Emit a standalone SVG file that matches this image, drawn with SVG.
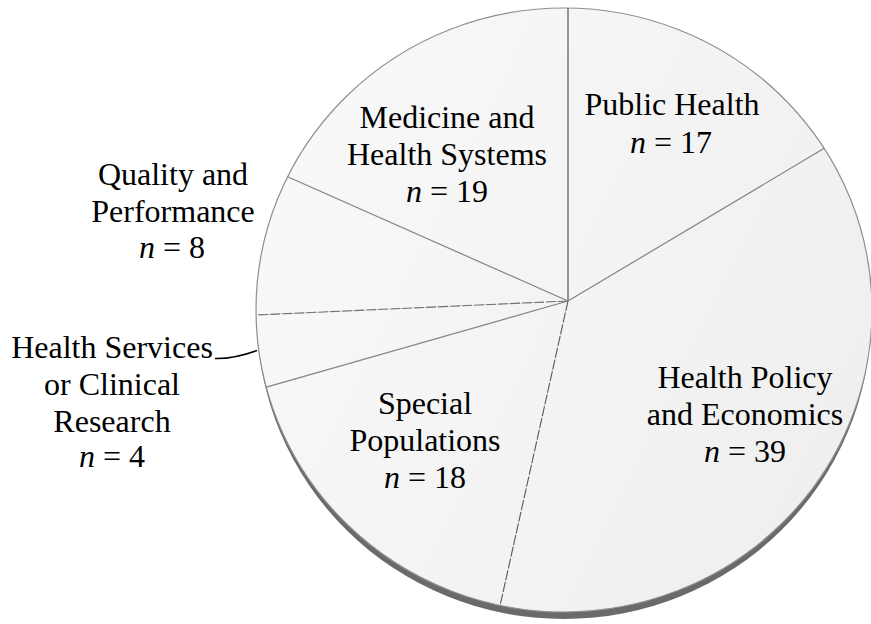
<svg xmlns="http://www.w3.org/2000/svg" width="871" height="624" viewBox="0 0 871 624">
<defs>
<linearGradient id="surf" gradientUnits="userSpaceOnUse" x1="256" y1="100" x2="871" y2="400">
<stop offset="0" stop-color="#f9f9f9"/>
<stop offset="1" stop-color="#efefef"/>
</linearGradient>
<style>
.slice{fill:url(#surf);stroke:none}
.div{stroke:#858585;stroke-width:1.2;fill:none}
.divd{stroke:#5a5a5a;stroke-width:1.1;fill:none;stroke-dasharray:10 2}
.it{font-style:italic}
</style>
</defs>
<rect width="871" height="624" fill="#ffffff"/>
<g id="pie-side">
<ellipse cx="564" cy="317" rx="307" ry="302" fill="#6a6a6a"/>
</g>
<g id="slice-public-health"><path class="slice" d="M568,301 L568,8 A308,302 0 0 1 824.2,148.3 Z"/></g>
<g id="slice-health-policy"><path class="slice" d="M568,301 L824.2,148.3 A308,302 0 0 1 500.1,605.4 Z"/></g>
<g id="slice-special-populations"><path class="slice" d="M568,301 L500.1,605.4 A308,302 0 0 1 266.3,387.2 Z"/></g>
<g id="slice-health-services"><path class="slice" d="M568,301 L266.3,387.2 A308,302 0 0 1 256.1,315 Z"/></g>
<g id="slice-quality"><path class="slice" d="M568,301 L256.1,315 A308,302 0 0 1 287.6,176.8 Z"/></g>
<g id="slice-medicine"><path class="slice" d="M568,301 L287.6,176.8 A308,302 0 0 1 568,8 Z"/></g>
<g id="outline">
<ellipse cx="564" cy="310" rx="308" ry="302" fill="none" stroke="#8f8f8f" stroke-width="1.2"/>
</g>
<g id="dividers">
<line class="div" x1="568" y1="301" x2="568" y2="8" style="stroke:#555"/>
<line class="div" x1="568" y1="301" x2="824.2" y2="148.3"/>
<line class="divd" x1="568" y1="301" x2="500.1" y2="605.4"/>
<line class="div" x1="568" y1="301" x2="266.3" y2="387.2"/>
<line class="divd" x1="568" y1="301" x2="256.1" y2="315" style="stroke:#707070"/>
<line class="div" x1="568" y1="301" x2="287.6" y2="176.8"/>
</g>
<g id="connectors">
<path d="M215,358.5 Q234,359 257,350.5" fill="none" stroke="#000" stroke-width="1.6"/>
</g>
<g id="labels" font-size="32" fill="#000" text-anchor="middle">
<g id="label-medicine">
<text font-family="Liberation Serif" x="447" y="128">Medicine and</text>
<text font-family="Liberation Serif" x="447" y="165">Health Systems</text>
<text font-family="Liberation Serif" x="447" y="202"><tspan class="it">n</tspan> = 19</text>
</g>
<g id="label-public-health">
<text font-family="Liberation Serif" x="672" y="115">Public Health</text>
<text font-family="Liberation Serif" x="671" y="153"><tspan class="it">n</tspan> = 17</text>
</g>
<g id="label-health-policy">
<text font-family="Liberation Serif" x="745" y="388">Health Policy</text>
<text font-family="Liberation Serif" x="745" y="425">and Economics</text>
<text font-family="Liberation Serif" x="745" y="462"><tspan class="it">n</tspan> = 39</text>
</g>
<g id="label-special">
<text font-family="Liberation Serif" x="425" y="414">Special</text>
<text font-family="Liberation Serif" x="425" y="451">Populations</text>
<text font-family="Liberation Serif" x="425" y="488"><tspan class="it">n</tspan> = 18</text>
</g>
<g id="label-quality">
<text font-family="Liberation Serif" x="173" y="185">Quality and</text>
<text font-family="Liberation Serif" x="173" y="222">Performance</text>
<text font-family="Liberation Serif" x="172" y="258"><tspan class="it">n</tspan> = 8</text>
</g>
<g id="label-health-services">
<text font-family="Liberation Serif" x="112" y="358">Health Services</text>
<text font-family="Liberation Serif" x="112" y="395">or Clinical</text>
<text font-family="Liberation Serif" x="112" y="432">Research</text>
<text font-family="Liberation Serif" x="112" y="467"><tspan class="it">n</tspan> = 4</text>
</g>
</g>
</svg>
